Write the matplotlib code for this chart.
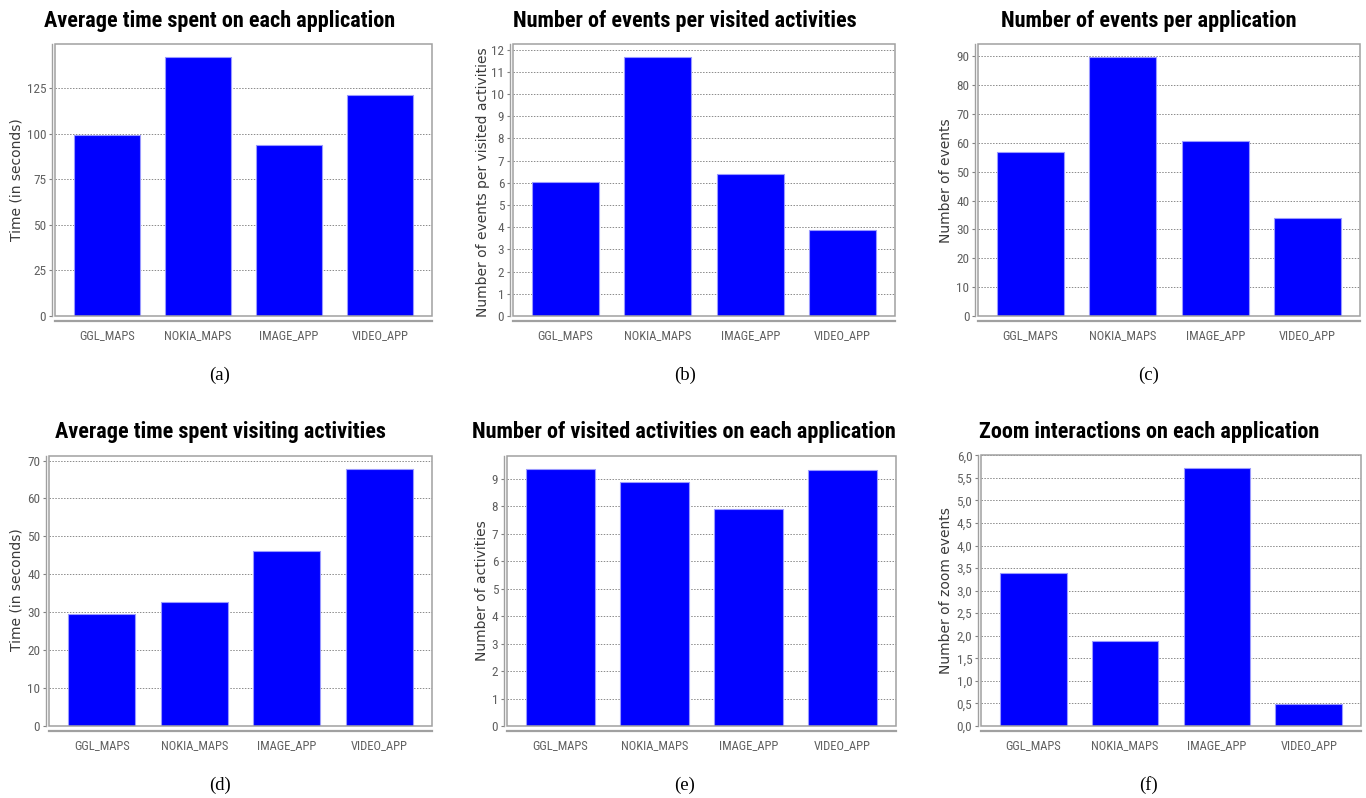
import matplotlib
matplotlib.use("Agg")
import matplotlib.pyplot as plt
from matplotlib import font_manager as fm
from matplotlib.patches import Rectangle
from matplotlib.ticker import FixedLocator, FuncFormatter

# ---------------- data ----------------
apps = ["GGL_MAPS", "NOKIA_MAPS", "IMAGE_APP", "VIDEO_APP"]

avg_time_app = [99.2, 142.3, 94.2, 121.4]
events_per_activity = [6.04, 11.67, 6.40, 3.86]
events_per_app = [56.9, 89.8, 60.6, 34.1]
avg_time_activity = [29.5, 32.7, 46.1, 67.8]
visited_activities = [9.37, 8.89, 7.90, 9.34]
zoom_events = [3.38, 1.89, 5.72, 0.49]

titles = ["Average time spent on each application",
          "Number of events per visited activities",
          "Number of events per application",
          "Average time spent visiting activities",
          "Number of visited activities on each application",
          "Zoom interactions on each application"]
ylabels = ["Time (in seconds)",
           "Number of events per visited activities",
           "Number of events",
           "Time (in seconds)",
           "Number of activities",
           "Number of zoom events"]
captions = ["(a)", "(b)", "(c)", "(d)", "(e)", "(f)"]
yticks = [[0, 25, 50, 75, 100, 125],
          list(range(0, 13)),
          list(range(0, 100, 10)),
          list(range(0, 80, 10)),
          list(range(0, 10)),
          [i * 0.5 for i in range(13)]]
series = [avg_time_app, events_per_activity, events_per_app,
          avg_time_activity, visited_activities, zoom_events]

# ---------------- layout (pixels) ----------------
W, H = 1366, 798
boxes = [(55, 44, 432, 316), (513, 44, 895, 316), (978, 44, 1360, 316),
         (49, 456, 432, 726), (507, 456, 896, 726), (981, 455, 1361, 726)]
title_pos = [(220, 21), (685, 21), (1149, 21), (220, 432), (684, 432), (1149, 432)]
ylabel_pos = [(17, 180), (483, 182), (946, 181), (17, 590), (482, 591), (946, 591)]
caption_pos = [(220, 375), (685, 375), (1149, 375), (220, 785), (685, 785), (1149, 785)]


def _w(f):
    w = f.weight
    if isinstance(w, str):
        w = fm.weight_dict.get(w, 400)
    return int(w)


def pick_font(names, weight, size):
    for nm in names:
        cands = [f for f in fm.fontManager.ttflist
                 if f.name == nm and f.style == "normal"]
        if cands:
            best = min(cands, key=lambda f: abs(_w(f) - weight))
            return fm.FontProperties(fname=best.fname, size=size)
    return fm.FontProperties(family="DejaVu Sans", size=size)


title_fp = pick_font(["Roboto Condensed", "Fira Sans Condensed"], 700, 16)
tick_x_fp = pick_font(["Roboto Condensed", "Fira Sans Condensed", "Archivo Narrow"], 400, 9)
tick_y_fp = pick_font(["Roboto Condensed", "Fira Sans Condensed", "Archivo Narrow"], 400, 9.5)
ylab_fp = fm.FontProperties(family="DejaVu Sans", size=10)
cap_fp = fm.FontProperties(family=["Liberation Serif", "DejaVu Serif"], size=13.5)

fig = plt.figure(figsize=(W / 100, H / 100), dpi=100)
fig.patch.set_facecolor("white")
tick_color = "#606060"

for i in range(6):
    l, t, r, b = boxes[i]
    ax = fig.add_axes([l / W, 1 - b / H, (r - l) / W, (b - t) / H])
    # spines first (moving a spine resets the ticks)
    for s in ["top", "right"]:
        ax.spines[s].set_visible(False)
    ax.spines["left"].set_position(("outward", 2.3))
    ax.spines["left"].set_color("#a0a0a0")
    ax.spines["left"].set_linewidth(1.0)
    ax.spines["bottom"].set_position(("outward", 3.6))
    ax.spines["bottom"].set_color("#a0a0a0")
    ax.spines["bottom"].set_linewidth(1.6)

    vals = series[i]
    x = list(range(len(apps)))
    ax.bar(x, vals, width=0.7245, color="#0000FF", edgecolor="#9a9aff",
           linewidth=0.8, zorder=3)
    ax.set_xlim(-0.569, 3.569)
    ax.set_ylim(0, max(vals) * 1.05)
    ax.yaxis.set_major_locator(FixedLocator(yticks[i]))
    if i == 5:
        ax.yaxis.set_major_formatter(FuncFormatter(lambda v, p: f"{v:.1f}".replace(".", ",")))
    else:
        ax.yaxis.set_major_formatter(FuncFormatter(lambda v, p: f"{v:g}"))
    ax.set_xticks(x)
    ax.set_xticklabels(apps)
    ax.tick_params(axis="x", length=0, pad=6, labelcolor=tick_color)
    ax.tick_params(axis="y", length=2.5, width=0.8, color="#808080", pad=1.5,
                   labelcolor=tick_color)
    ax.grid(axis="y", color="#8a8a8a", linestyle=(0, (1.5, 1.5)), linewidth=0.7, zorder=1)
    ax.set_axisbelow(True)
    for lab in ax.get_xticklabels():
        lab.set_fontproperties(tick_x_fp)
    for lab in ax.get_yticklabels():
        lab.set_fontproperties(tick_y_fp)
    ax.add_patch(Rectangle((0, 0), 1, 1, transform=ax.transAxes, fill=False,
                           edgecolor="#a0a0a0", linewidth=1.1, zorder=5, clip_on=False))

    tx, ty = title_pos[i]
    fig.text(tx / W, 1 - ty / H, titles[i], ha="center", va="center",
             fontproperties=title_fp, color="black")
    lx, ly = ylabel_pos[i]
    fig.text(lx / W, 1 - ly / H, ylabels[i], ha="center", va="center", rotation=90,
             fontproperties=ylab_fp, color="#3a3a3a")
    cx, cy = caption_pos[i]
    fig.text(cx / W, 1 - cy / H, captions[i], ha="center", va="center",
             fontproperties=cap_fp, color="black")

fig.savefig("out.png", dpi=100, facecolor="white")
